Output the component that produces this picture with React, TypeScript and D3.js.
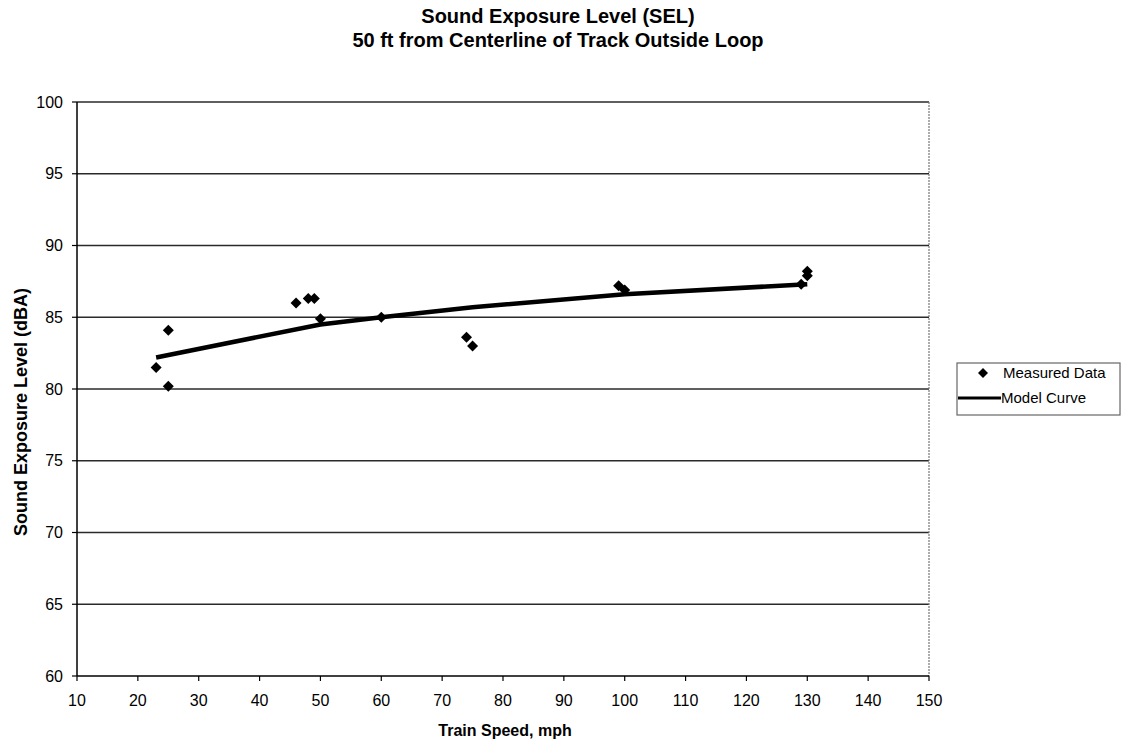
import React from "react";
import * as d3 from "d3";

// Measured SEL values (dBA) at each pass-by speed (mph)
const measuredSpeed = [23, 25, 25, 46, 48, 49, 50, 60, 74, 75, 99, 100, 129, 130, 130];
const measuredSEL = [81.5, 84.1, 80.2, 86.0, 86.3, 86.3, 84.9, 85.0, 83.6, 83.0, 87.2, 86.9, 87.3, 87.9, 88.2];

// Model curve points
const modelSpeed = [23, 50, 60, 75, 100, 130];
const modelSEL = [82.2, 84.5, 85.0, 85.7, 86.6, 87.3];

const xTicks = [10, 20, 30, 40, 50, 60, 70, 80, 90, 100, 110, 120, 130, 140, 150];
const yTicks = [60, 65, 70, 75, 80, 85, 90, 95, 100];

const W = 1122;
const H = 742;
const plot = { left: 77, right: 929, top: 102, bottom: 676 };
const FONT = "'Liberation Sans', Arial, Helvetica, sans-serif";

export default function App() {
  const x = d3.scaleLinear().domain([10, 150]).range([plot.left, plot.right]);
  const y = d3.scaleLinear().domain([60, 100]).range([plot.bottom, plot.top]);

  const line = d3
    .line<number>()
    .x((_, i) => x(modelSpeed[i]))
    .y((d) => y(d));

  const diamond = (cx: number, cy: number, r: number) =>
    `M${cx},${cy - r}L${cx + r},${cy}L${cx},${cy + r}L${cx - r},${cy}Z`;

  return (
    <svg
      width={W}
      height={H}
      style={{ position: "absolute", left: 0, top: 0, background: "#fff" }}
      fontFamily={FONT}
    >
      {/* Title */}
      <text x={558} y={23} textAnchor="middle" fontSize={20} fontWeight="bold" fill="#000">
        Sound Exposure Level (SEL)
      </text>
      <text x={558} y={47} textAnchor="middle" fontSize={20} fontWeight="bold" fill="#000">
        50 ft from Centerline of Track Outside Loop
      </text>

      {/* Horizontal gridlines */}
      {yTicks.filter((t) => t !== 60).map((t) => (
        <line key={"g" + t} x1={plot.left} x2={plot.right} y1={y(t)} y2={y(t)} stroke="#2a2a2a" strokeWidth={1.3} />
      ))}
      {/* Right border */}
      <line x1={plot.right} x2={plot.right} y1={plot.top} y2={plot.bottom} stroke="#777" strokeWidth={1.2} strokeDasharray="2,1" />

      {/* Axes */}
      <line x1={plot.left} x2={plot.left} y1={plot.top} y2={plot.bottom} stroke="#000" strokeWidth={1.5} />
      <line x1={plot.left} x2={plot.right} y1={plot.bottom} y2={plot.bottom} stroke="#000" strokeWidth={1.5} />

      {/* Y ticks and labels */}
      {yTicks.map((t) => (
        <g key={"y" + t}>
          <line x1={plot.left - 5} x2={plot.left} y1={y(t)} y2={y(t)} stroke="#000" strokeWidth={1.2} />
          <text x={63} y={y(t)} dy="0.35em" textAnchor="end" fontSize={16} fill="#000">
            {t}
          </text>
        </g>
      ))}

      {/* X ticks and labels */}
      {xTicks.map((t) => (
        <g key={"x" + t}>
          <line x1={x(t)} x2={x(t)} y1={plot.bottom} y2={plot.bottom + 5} stroke="#000" strokeWidth={1.2} />
          <text x={x(t)} y={706} textAnchor="middle" fontSize={16} fill="#000">
            {t}
          </text>
        </g>
      ))}

      {/* Axis titles */}
      <text x={505} y={736} textAnchor="middle" fontSize={16} fontWeight="bold" fill="#000">
        Train Speed, mph
      </text>
      <text
        transform="translate(27,412) rotate(-90)"
        textAnchor="middle"
        fontSize={18}
        fontWeight="bold"
        fill="#000"
      >
        Sound Exposure Level (dBA)
      </text>

      {/* Model curve */}
      <path d={line(modelSEL) ?? ""} fill="none" stroke="#000" strokeWidth={4.5} strokeLinejoin="round" />

      {/* Measured data */}
      {measuredSEL.map((v, i) => (
        <path key={"m" + i} d={diamond(x(measuredSpeed[i]), y(v), 5.5)} fill="#000" />
      ))}

      {/* Legend */}
      <rect x={957} y={363} width={163} height={52} fill="#fff" stroke="#666" strokeWidth={1.2} />
      <path d={diamond(983, 373, 5)} fill="#000" />
      <text x={1003} y={373} dy="0.35em" fontSize={15} fill="#000">
        Measured Data
      </text>
      <line x1={958} x2={1001} y1={398} y2={398} stroke="#000" strokeWidth={3} />
      <text x={1001} y={398} dy="0.35em" fontSize={15} fill="#000">
        Model Curve
      </text>
    </svg>
  );
}
